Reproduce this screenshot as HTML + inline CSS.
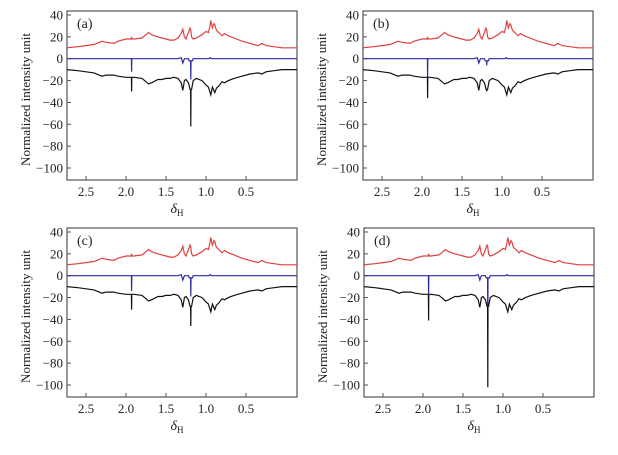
<!DOCTYPE html>
<html><head><meta charset="utf-8"><style>
html,body{margin:0;padding:0;background:#fff;}
svg text{font-family:"Liberation Serif",serif;fill:#222;}
</style></head><body>
<svg id="fig" width="618" height="450" viewBox="0 0 618 450" xmlns="http://www.w3.org/2000/svg"></svg>
<script>
const panelLabels = ["(a)","(b)","(c)","(d)"];
const xTicks = [2.5,2.0,1.5,1.0,0.5];
const xTickLabels = ["2.5","2.0","1.5","1.0","0.5"];
const yTicks = [40,20,0,-20,-40,-60,-80,-100];
const yTickLabels = ["40","20","0","\u221220","\u221240","\u221260","\u221280","\u2212100"];
const redPoints = [[2.74,10],[2.6,11],[2.5,12],[2.4,13],[2.3,16],[2.25,15],[2.15,14],[2.1,16],[2.0,18],[1.95,18],[1.935,18],[1.93,20],[1.925,18],[1.9,18],[1.8,19],[1.75,22],[1.72,24],[1.68,22],[1.6,20],[1.55,19],[1.5,18],[1.45,17],[1.4,17],[1.35,19],[1.31,23],[1.29,27],[1.27,20],[1.25,18],[1.22,24],[1.2,28],[1.19,26],[1.18,20],[1.16,18],[1.12,19],[1.05,22],[1.0,25],[0.97,24],[0.95,30],[0.94,35],[0.92,28],[0.9,32],[0.89,31],[0.87,26],[0.84,24],[0.8,21],[0.77,23],[0.72,21],[0.65,19],[0.55,16],[0.45,14],[0.35,12],[0.3,14],[0.25,12],[0.15,11],[0.05,10],[-0.14,10]];
const blackPoints = [[2.74,-10],[2.6,-11],[2.5,-12],[2.4,-13],[2.3,-16],[2.25,-15],[2.15,-15],[2.1,-16],[2.0,-17],[1.95,-17],[1.9,-17],[1.8,-18],[1.75,-21],[1.72,-23],[1.68,-22],[1.6,-19],[1.55,-19],[1.5,-18],[1.45,-18],[1.4,-17],[1.35,-18],[1.31,-22],[1.29,-29],[1.27,-20],[1.25,-19],[1.22,-22],[1.2,-28],[1.18,-28],[1.16,-20],[1.12,-18],[1.05,-20],[1.0,-24],[0.97,-26],[0.94,-33],[0.92,-26],[0.89,-31],[0.87,-27],[0.84,-25],[0.8,-21],[0.77,-22],[0.72,-20],[0.65,-18],[0.55,-16],[0.45,-14],[0.35,-13],[0.3,-14],[0.25,-12],[0.15,-11],[0.05,-10],[-0.14,-10]];
const bluePoints = [[2.74,0],[1.95,0],[1.9,0],[1.35,0],[1.31,1],[1.29,-4],[1.27,0],[1.22,0],[1.21,-2],[1.17,-2],[1.16,0],[0.96,0],[0.95,1],[0.93,0],[-0.14,0]];
const blackSpike193 = [-30,-36,-31,-41];
const blackDip119 = [-62,-30,-46,-102];
const blueSpike193 = [-12,-18,-14,-18];
const blueDip119 = [-19,-6,-19,-60];

const NS="http://www.w3.org/2000/svg";
const svg=document.getElementById('fig');
const offsets=[[0,0],[296,0],[0,217],[297,217]];
const BW=230,BH=169;
function mk(tag,attrs,parent){const e=document.createElementNS(NS,tag);for(const k in attrs)e.setAttribute(k,attrs[k]);(parent||svg).appendChild(e);return e;}
function withSpikes(base,spikeX,spikeV,dipX,dipV){
  const pts=base.map(p=>[p[0],p[1]]);
  function insert(x,v){
    let i=pts.findIndex(p=>p[0]<x);
    const a=pts[i-1],b=pts[i];
    const bv=a[1]+(b[1]-a[1])*(a[0]-x)/(a[0]-b[0]);
    pts.splice(i,0,[x+0.002,bv],[x,v],[x-0.002,bv]);
  }
  insert(spikeX,spikeV);insert(dipX,dipV);
  return pts;
}
offsets.forEach((o,pi)=>{
  const L=o[0]+67,T=o[1]+11;
  const xs=v=>L+19+(2.5-v)*80;
  const ys=v=>T+4+(40-v)*(153/140);
  const g=mk('g',{});
  
  
  const clipId='clip'+pi;
  const cp=mk('clipPath',{id:clipId},g);mk('rect',{x:L,y:T,width:BW,height:BH},cp);
  const frame=mk('rect',{x:L,y:T,width:BW,height:BH,fill:'none',stroke:'#555','stroke-width':1.2},g);
  
  
  xTicks.forEach((t,i)=>{
    mk('line',{x1:xs(t),x2:xs(t),y1:T+BH,y2:T+BH-4,stroke:'#555'},g);
    const tx=mk('text',{x:xs(t),y:T+BH+16,'text-anchor':'middle','font-size':13},g);
    tx.textContent=xTickLabels[i];
    
    
  });
  yTicks.forEach((t,i)=>{
    mk('line',{x1:L,x2:L+4,y1:ys(t),y2:ys(t),stroke:'#555'},g);
    const tx=mk('text',{x:L-4,y:ys(t)+4.5,'text-anchor':'end','font-size':13},g);
    tx.textContent=yTickLabels[i];
    
    
  });
  const yl=mk('text',{x:0,y:0,'text-anchor':'middle','font-size':13,transform:`translate(${L-37},${T+BH/2+4}) rotate(-90)`},g);
  yl.textContent='Normalized intensity unit';
  
  
  const xl=mk('text',{x:L+BW/2-5,y:T+BH+33,'text-anchor':'middle','font-size':14},g);
  xl.innerHTML='<tspan font-style="italic">δ</tspan><tspan font-size="9" dy="3">H</tspan>';
  
  
  const pl=mk('text',{x:L+10,y:T+17,'font-size':14},g);
  pl.textContent=panelLabels[pi];
  
  
  const series=[
    ['red-spectrum',redPoints,'#e04040'],
    ['blue-difference',withSpikes(bluePoints,1.93,blueSpike193[pi],1.19,blueDip119[pi]),'#2a2aa0'],
    ['black-spectrum',withSpikes(blackPoints,1.93,blackSpike193[pi],1.19,blackDip119[pi]),'#111']
  ];
  series.forEach(s=>{
    const d=s[1].map((p,i)=>(i?'L':'M')+xs(p[0]).toFixed(1)+','+ys(p[1]).toFixed(1)).join('');
    const path=mk('path',{d:d,fill:'none',stroke:s[2],'stroke-width':1.2,'clip-path':`url(#${clipId})`},g);
    
    
  });
});
</script>
</body></html>
